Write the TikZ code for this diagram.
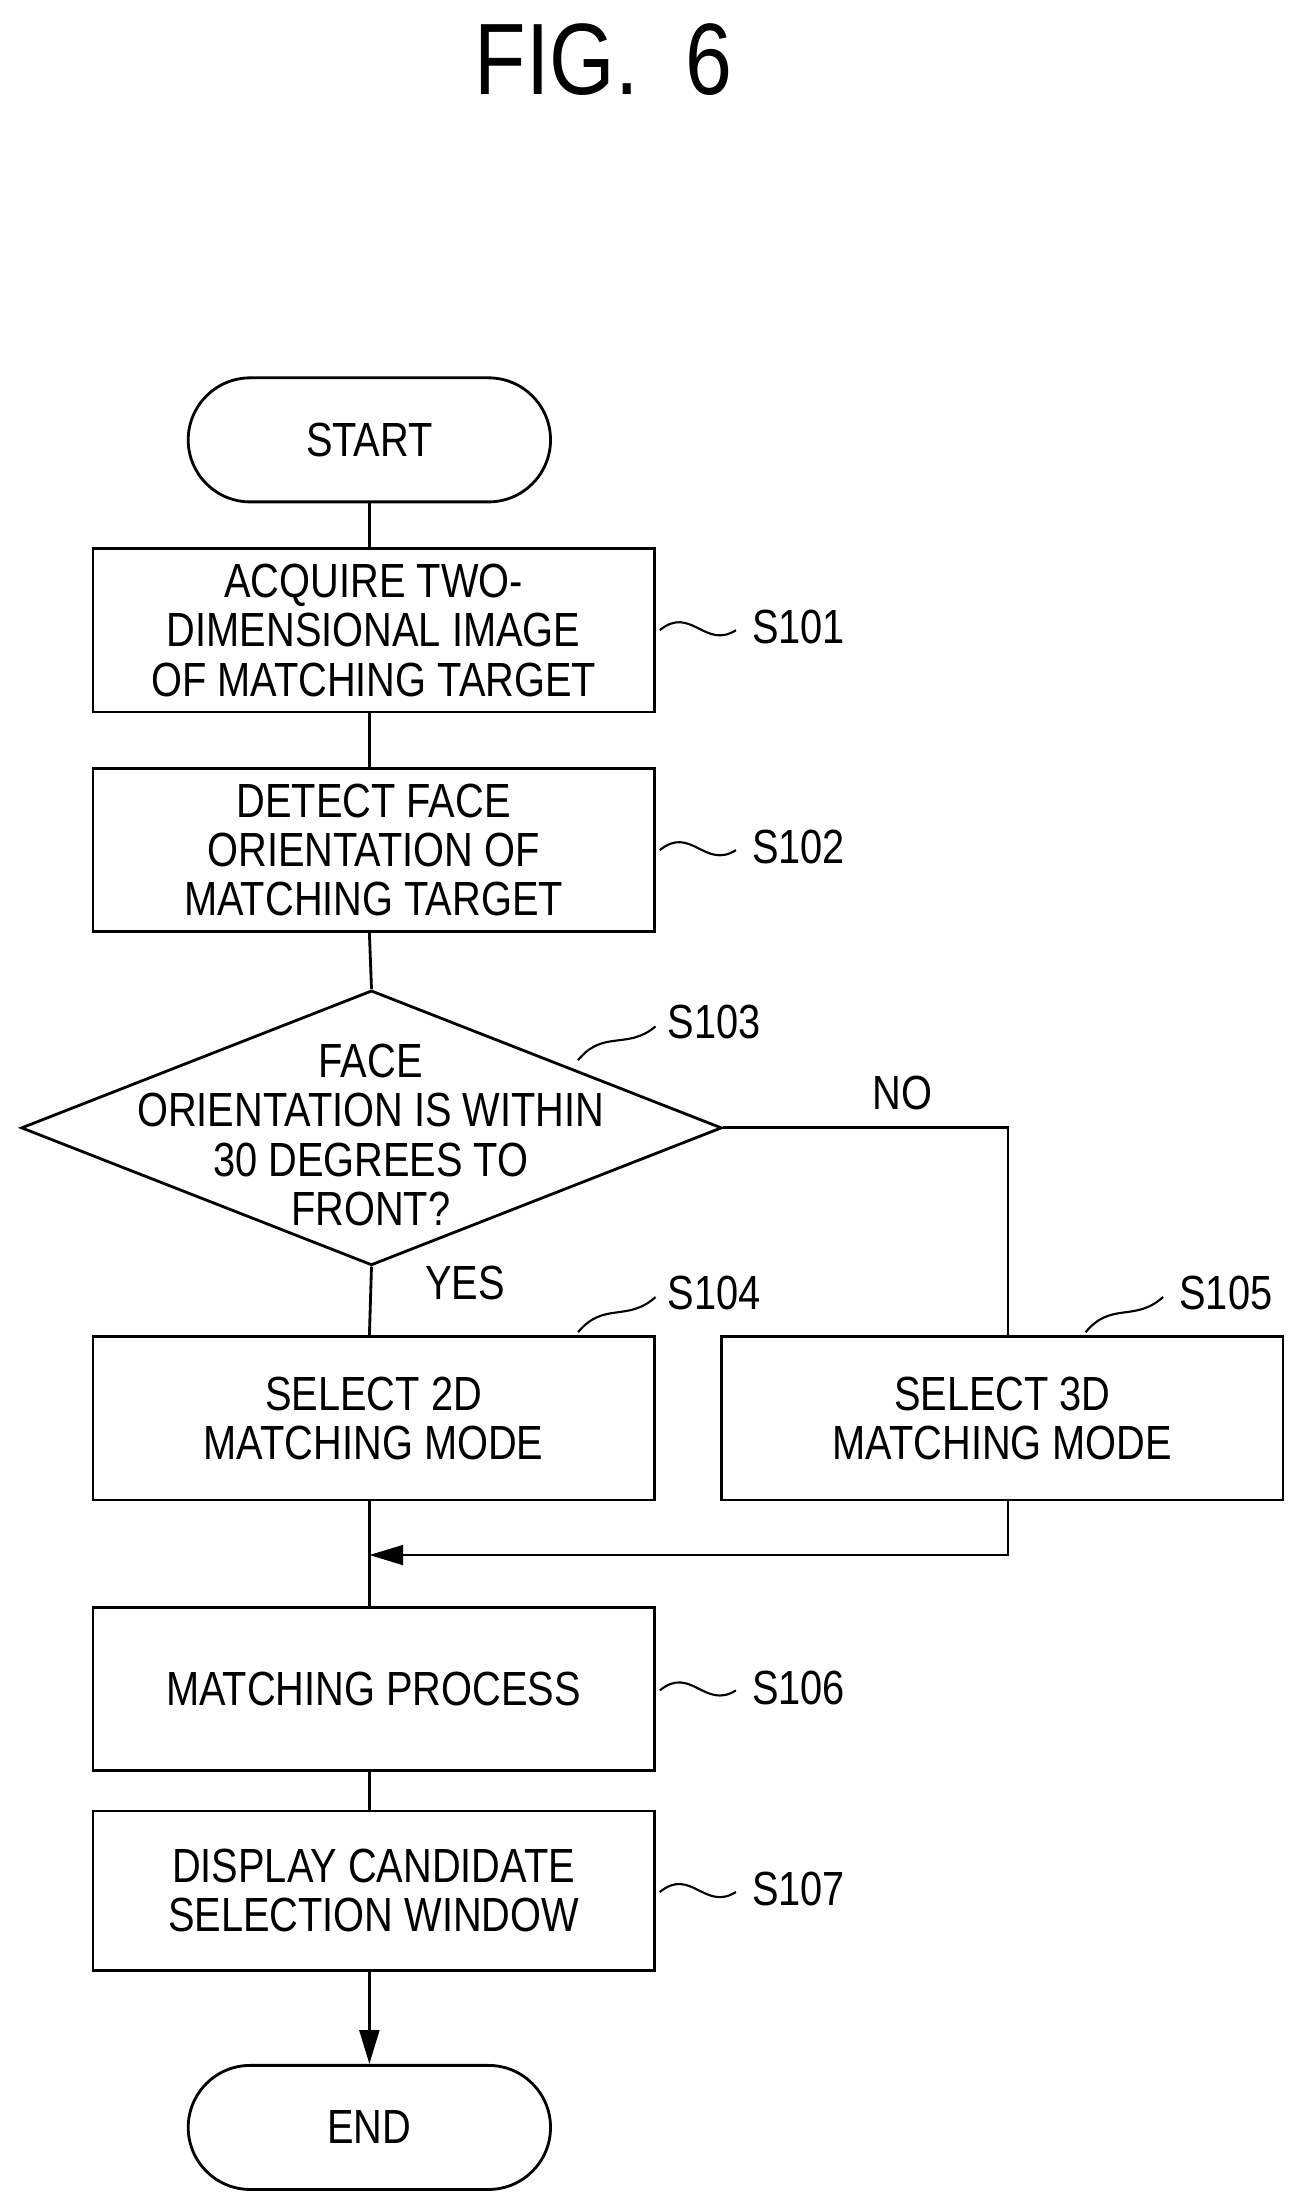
\documentclass[tikz,border=0pt]{standalone}
\usepackage{fontspec}
\setmainfont{Liberation Sans}[FakeStretch=0.83]
\usetikzlibrary{shapes.geometric,arrows.meta}
\begin{document}
\begin{tikzpicture}[x=1pt,y=-1pt,
 box/.style={draw,line width=2pt,minimum width=398pt,minimum height=116pt,align=center,font=\fontsize{34}{35}\selectfont,inner sep=0pt},
 term/.style={draw,line width=2pt,rounded corners=44pt,minimum width=257pt,minimum height=88pt,font=\fontsize{34}{35}\selectfont},
 lab/.style={font=\fontsize{34}{35}\selectfont},
 ln/.style={line width=2pt},
 sq/.style={line width=1.5pt}]
\useasboundingbox (0,0) rectangle (928,1569);
\node[font=\fontsize{72}{80}\selectfont] (title) at (428,42) {FIG.\ \ 6};
\node[term] (start) at (262,312) {START};
\node[box] (s101) at (265,447) {ACQUIRE TWO-\\DIMENSIONAL IMAGE\\OF MATCHING TARGET};
\node[box] (s102) at (265,603) {DETECT FACE\\ORIENTATION OF\\MATCHING TARGET};
\node[draw,line width=2pt,diamond,aspect=2.55,minimum width=497pt,minimum height=195pt,inner sep=0pt] (s103) at (263.5,800) {};
\node[align=center,font=\fontsize{34}{35}\selectfont] at (263,805) {FACE\\ORIENTATION IS WITHIN\\30 DEGREES TO\\FRONT?};
\node[box] (s104) at (265,1006) {SELECT 2D\\MATCHING MODE};
\node[box] (s105) at (711,1006) {SELECT 3D\\MATCHING MODE};
\node[box] (s106) at (265,1198) {MATCHING PROCESS};
\node[box,minimum height=113pt] (s107) at (265,1341) {DISPLAY CANDIDATE\\SELECTION WINDOW};
\node[term] (end) at (262,1509) {END};
\draw[ln] (start) -- (262,389);
\draw[ln] (262,505) -- (262,545);
\draw[ln] (262,661) -- (s103.north);
\draw[ln] (s103.south) -- (262,948);
\draw[ln] (s103.east) -- (715,800) -- (715,948);
\draw[ln] (262,1065) -- (262,1140);
\draw[ln,-{Triangle[length=24pt,width=14pt]}] (715,1065) -- (715,1103) -- (262,1103);
\draw[ln] (262,1257) -- (262,1285);
\draw[ln,-{Triangle[length=24pt,width=14pt]}] (262,1398) -- (end);
\node[lab] at (640,775) {NO};
\node[lab] at (330,910) {YES};
\node[lab,anchor=west] (l1) at (530,445) {S101};
\node[lab,anchor=west] (l2) at (530,601) {S102};
\node[lab,anchor=west] (l3) at (470,725) {S103};
\node[lab,anchor=west] (l4) at (470,917) {S104};
\node[lab,anchor=west] (l5) at (833,917) {S105};
\node[lab,anchor=west] (l6) at (530,1197) {S106};
\node[lab,anchor=west] (l7) at (530,1340) {S107};
\foreach \y in {447,603,1199,1342}
 \draw[sq] (468,\y) .. controls (490,\y-18) and (500,\y+14) .. (522,\y);
\draw[sq] (410,752) .. controls (428,730) and (445,745) .. (465,728);
\draw[sq] (410,945) .. controls (428,923) and (445,938) .. (465,920);
\draw[sq] (770,945) .. controls (788,923) and (805,938) .. (825,920);
\end{tikzpicture}
\end{document}
